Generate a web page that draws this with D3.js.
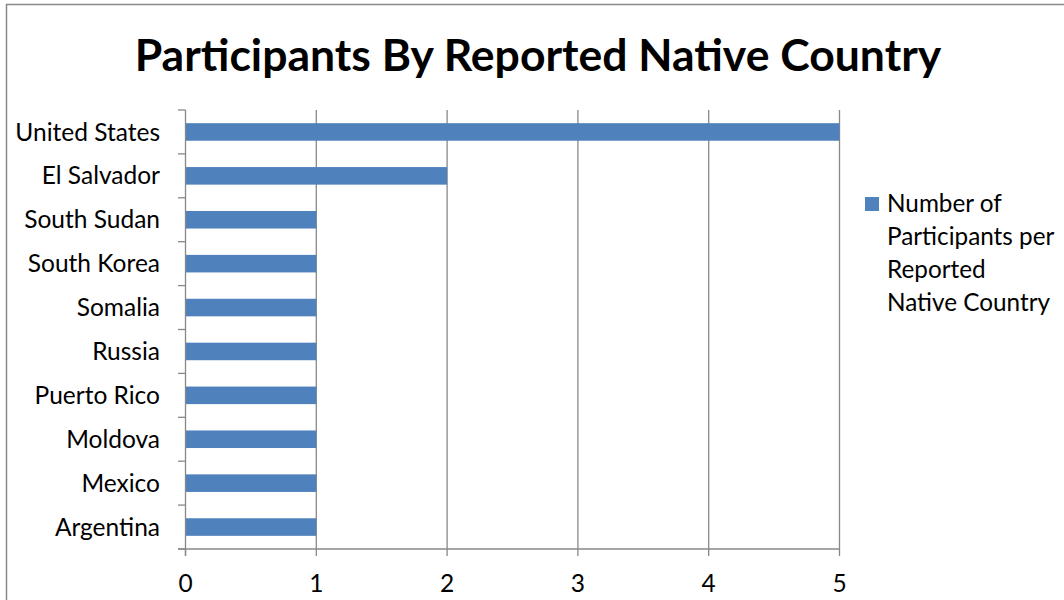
<!DOCTYPE html>
<html><head><meta charset="utf-8">
<script src="https://cdn.jsdelivr.net/npm/d3@7"></script>
<style>body{margin:0;background:#fff}svg text{font-family:Lato,"Open Sans",sans-serif;fill:#000}</style>
</head><body><svg id="c" width="1064" height="600"></svg>
<script>
const categories = ["United States","El Salvador","South Sudan","South Korea","Somalia","Russia","Puerto Rico","Moldova","Mexico","Argentina"];
const values = [5,2,1,1,1,1,1,1,1,1];
const xTicks = [0,1,2,3,4,5];
const title = "Participants By Reported Native Country";
const legendLines = ["Number of","Participants per","Reported","Native Country"];

const svg = d3.select("#c");
svg.append("rect").attr("x",6.5).attr("y",4.5).attr("width",1070).attr("height",620)
  .attr("fill","#fff").attr("stroke","#888").attr("stroke-width",1.5);

const x = d3.scaleLinear().domain([0,5]).range([185.5,839.5]);
const yb = d3.scaleBand().domain(categories).range([110,549]);

svg.append("text").attr("x",538).attr("y",71).attr("text-anchor","middle")
  .attr("font-weight","bold").attr("font-size",44.5).text(title);

// gridlines
svg.append("g").selectAll("line").data(xTicks.slice(1)).join("line")
  .attr("x1",d=>x(d)).attr("x2",d=>x(d)).attr("y1",110).attr("y2",549)
  .attr("stroke","#888").attr("stroke-width",1.3);

// bars
svg.append("g").selectAll("rect").data(categories).join("rect")
  .attr("x",x(0)).attr("y",d=>yb(d)+yb.bandwidth()*0.3).attr("height",yb.bandwidth()*0.4)
  .attr("width",(d,i)=>x(values[i])-x(0)).attr("fill","#4F81BD");

// y axis
const ga = svg.append("g");
ga.append("line").attr("x1",x(0)).attr("x2",x(0)).attr("y1",110).attr("y2",556).attr("stroke","#888").attr("stroke-width",1.3);
const yEdges = categories.map(c=>yb(c)).concat([549]);
ga.selectAll("line.yt").data(yEdges).join("line").attr("class","yt")
  .attr("x1",178).attr("x2",x(0)).attr("y1",d=>d).attr("y2",d=>d).attr("stroke","#888").attr("stroke-width",1.3);
ga.selectAll("text.yl").data(categories).join("text").attr("class","yl")
  .attr("x",160).attr("y",d=>yb(d)+yb.bandwidth()/2).attr("dy","0.35em").attr("text-anchor","end")
  .attr("font-size",24.5).text(d=>d);

// x axis
ga.append("line").attr("x1",178).attr("x2",x(5)).attr("y1",549).attr("y2",549).attr("stroke","#888").attr("stroke-width",1.3);
ga.selectAll("line.xt").data(xTicks).join("line").attr("class","xt")
  .attr("x1",d=>x(d)).attr("x2",d=>x(d)).attr("y1",549).attr("y2",556).attr("stroke","#888").attr("stroke-width",1.3);
ga.selectAll("text.xl").data(xTicks).join("text").attr("class","xl")
  .attr("x",d=>x(d)).attr("y",583).attr("dy","0.35em").attr("text-anchor","middle")
  .attr("font-size",24.5).text(d=>d);

// legend
svg.append("rect").attr("x",865).attr("y",197).attr("width",14).attr("height",14).attr("fill","#4F81BD");
svg.append("g").selectAll("text").data(legendLines).join("text")
  .attr("x",887).attr("y",(d,i)=>203+i*33).attr("dy","0.35em").attr("font-size",24.3).text(d=>d);
</script></body></html>
